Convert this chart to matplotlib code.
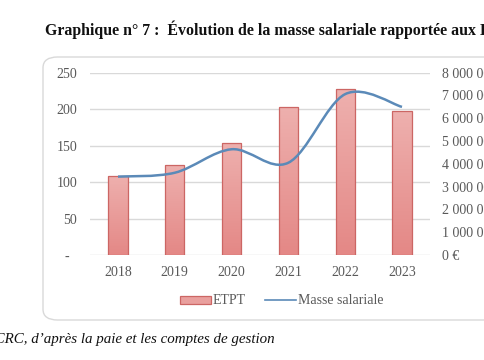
import matplotlib.pyplot as plt
import numpy as np
from matplotlib.path import Path
from matplotlib.patches import PathPatch, FancyBboxPatch, Patch
from matplotlib.lines import Line2D
from matplotlib.colors import LinearSegmentedColormap

years = ["2018", "2019", "2020", "2021", "2022", "2023"]
etpt = [109, 123, 154, 203, 227, 197]
masse = [3440000, 3610000, 4640000, 4050000, 7060000, 6500000]
left_ticks = [0, 50, 100, 150, 200, 250]
left_labels = ["-  ", "50", "100", "150", "200", "250"]
right_ticks = [0, 1000000, 2000000, 3000000, 4000000, 5000000, 6000000, 7000000, 8000000]
right_labels = ["0 €"] + [f"{v // 1000000} 000 000 €" for v in right_ticks[1:]]

W, H = 485, 360
plt.rcParams['font.family'] = ['Liberation Serif', 'DejaVu Serif']
fig = plt.figure(figsize=(W / 100, H / 100), dpi=100)

# chart frame (rounded box, cut on the right side)
box = FancyBboxPatch((43 / W, (H - 320) / H), 470 / W, 263 / H,
                     boxstyle="round,pad=0,rounding_size=0.03",
                     transform=fig.transFigure, fc="white", ec="#d9d9d9", lw=1.0, zorder=-1)
fig.patches.append(box)

ax = fig.add_axes([89.6 / W, (H - 255) / H, 340.8 / W, 182.3 / H])
ax.patch.set_visible(False)
x = np.arange(len(years))
bars = ax.bar(x, etpt, width=0.34, color="#e9a09e", edgecolor="#cc6664", linewidth=0.9, zorder=2)

# light vertical gradient on the bars
grad = np.linspace(0, 1, 100).reshape(-1, 1)
cmap = LinearSegmentedColormap.from_list("g", ["#e48886", "#eeb0ae"])
for b in bars:
    x0, y0 = b.get_x(), b.get_y()
    im = ax.imshow(grad, extent=[x0, x0 + b.get_width(), y0, y0 + b.get_height()],
                   cmap=cmap, aspect="auto", origin="lower", zorder=2)
    im.set_clip_path(b)
    b.set_facecolor("none")
    b.set_zorder(3)

ax.set_xlim(-0.5, len(years) - 0.5)
ax.set_ylim(0, 250)
ax.set_yticks(left_ticks)
ax.set_yticklabels(left_labels)
ax.set_xticks(x)
ax.set_xticklabels(years)
ax.grid(axis="y", color="#d9d9d9", lw=1.0, zorder=0)
for s in ax.spines.values():
    s.set_visible(False)
ax.tick_params(length=0, colors="#595959", labelsize=10)
ax.tick_params(axis="y", pad=9)
ax.tick_params(axis="x", pad=8)

ax2 = ax.twinx()
ax2.set_ylim(0, 8000000)
ax2.set_yticks(right_ticks)
ax2.set_yticklabels(right_labels)
for s in ax2.spines.values():
    s.set_visible(False)
ax2.tick_params(length=0, colors="#595959", labelsize=10, pad=8)

# smoothed line (Catmull-Rom style, like the spreadsheet)
pts = np.column_stack([x, masse]).astype(float)
verts = [pts[0]]
codes = [Path.MOVETO]
n = len(pts)
for i in range(n - 1):
    p0 = pts[max(i - 1, 0)]
    p1 = pts[i]
    p2 = pts[i + 1]
    p3 = pts[min(i + 2, n - 1)]
    verts += [p1 + (p2 - p0) / 6, p2 - (p3 - p1) / 6, p2]
    codes += [Path.CURVE4] * 3
ax2.add_patch(PathPatch(Path(verts, codes), fc="none", ec="#5b8ab8", lw=1.8, zorder=4))

handles = [Patch(fc="#e9a09e", ec="#cc6664", lw=0.9),
           Line2D([], [], color="#5b8ab8", lw=1.2)]
fig.legend(handles, ["ETPT", "Masse salariale"], loc="center", bbox_to_anchor=(282 / W, (H - 301) / H),
           ncol=2, frameon=False, fontsize=10, handlelength=2.2, handleheight=0.5,
           handletextpad=0.15, columnspacing=1.4, labelcolor="#595959")

fig.text(45 / W, (H - 30) / H, "Graphique n° 7 :  Évolution de la masse salariale rapportée aux ETPT",
         fontsize=11.4, fontweight="bold", va="center", ha="left", color="#111111")
fig.text(275 / W, (H - 340) / H, "Source : CRC, d’après la paie et les comptes de gestion",
         fontsize=10.8, style="italic", va="center", ha="right", color="#111111")

fig.savefig("out.png", dpi=100)
